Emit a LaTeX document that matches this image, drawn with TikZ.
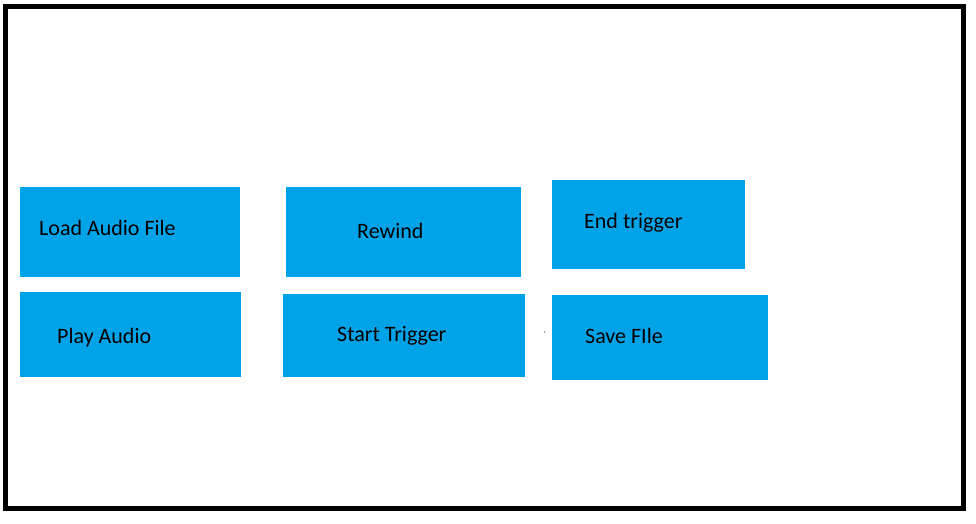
\documentclass[tikz,border=0pt]{standalone}
\usepackage{fontspec}
\setmainfont{Carlito}
\definecolor{boxblue}{RGB}{0,162,232}
\tikzset{
  panel/.style={fill=boxblue, draw=none, anchor=north west, inner sep=0pt},
  lbl/.style={anchor=base west, inner sep=0pt, text=black, font=\fontsize{22}{26}\selectfont},
  frame/.style={draw=black, line width=5pt}
}
\begin{document}
\begin{tikzpicture}[x=1pt,y=-1pt]
\useasboundingbox (0,0) rectangle (976,524);
\fill[white] (0,0) rectangle (976,524);
\draw[frame] (5.5,6.5) rectangle (963.5,508.5);
% boxes
\node[panel, minimum width=220pt, minimum height=90pt] (load) at (20,187) {};
\node[panel, minimum width=221pt, minimum height=85pt] (play) at (20,292) {};
\node[panel, minimum width=235pt, minimum height=90pt] (rewind) at (286,187) {};
\node[panel, minimum width=242pt, minimum height=83pt] (start) at (283,294) {};
\node[panel, minimum width=193pt, minimum height=89pt] (endt) at (552,180) {};
\node[panel, minimum width=216pt, minimum height=85pt] (save) at (552,295) {};
% labels
\node[lbl] (loadtxt) at (39,235) {Load Audio File};
\node[lbl] (playtxt) at (57,343) {Play Audio};
\node[lbl] (rewindtxt) at (357,238) {Rewind};
\node[lbl] (starttxt) at (337,341) {Start Trigger};
\node[lbl] (endtxt) at (584,228) {End trigger};
\node[lbl] (savetxt) at (585,343) {Save FIle};
\fill[black!70] (544.5,332) circle (0.7pt);
\end{tikzpicture}
\end{document}
